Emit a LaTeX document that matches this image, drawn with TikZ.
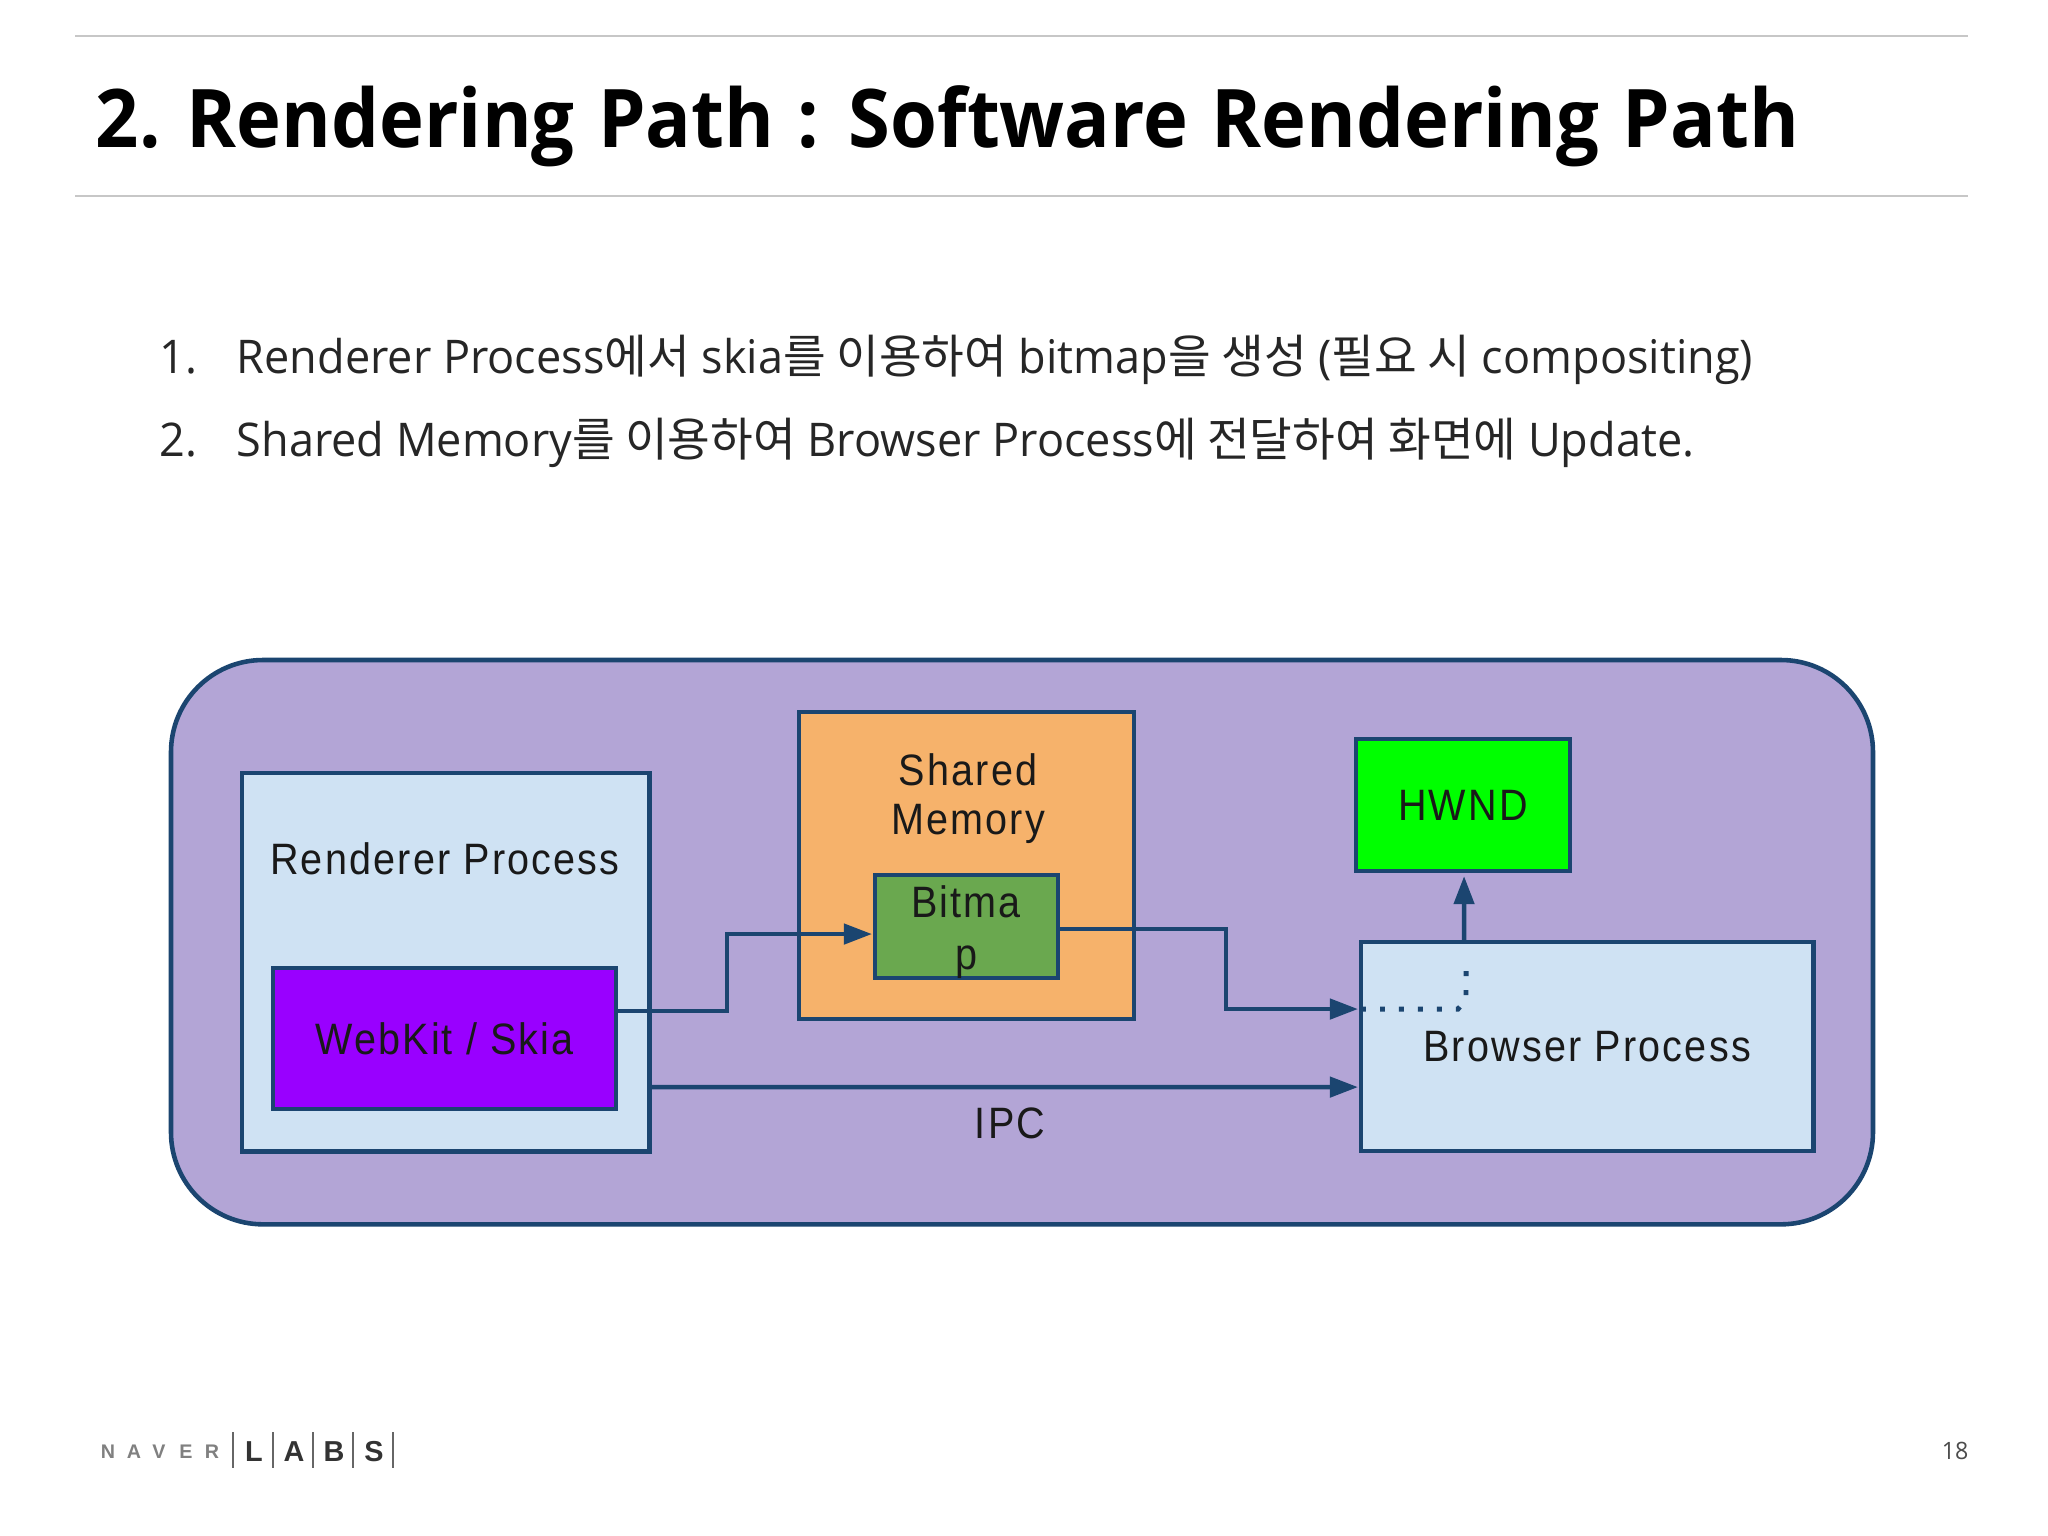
\documentclass[tikz,border=0pt]{standalone}
\usepackage{fontspec}
\usetikzlibrary{arrows.meta}
\setmainfont[FakeStretch=0.97]{Open Sans}
\newfontfamily\kr{Noto Sans CJK KR}
\newfontfamily\ttl[FakeStretch=0.938]{Open Sans}
\newfontfamily\diag[FakeStretch=0.9,LetterSpace=5]{Liberation Sans}
\newfontfamily\logo{Liberation Sans}
\newcommand{\K}[1]{{\kr #1}}
\definecolor{edge}{HTML}{1B4570}
\definecolor{panel}{HTML}{B3A5D6}
\definecolor{pale}{HTML}{CFE2F3}
\definecolor{orangebox}{HTML}{F6B26B}
\definecolor{greenbox}{HTML}{6AA84F}
\definecolor{purplebox}{HTML}{9900FF}
\definecolor{limebox}{HTML}{00FF00}
\tikzset{
  x=0.01cm,y=-0.01cm,
  box/.style={draw=edge,line width=1.3pt,inner sep=0pt,outer sep=0pt},
  lbl/.style={font=\diag\fontsize{12.5}{14}\selectfont,text=black!90,inner sep=0pt,align=center},
  conn/.style={draw=edge,line width=1.3pt,-{Triangle[length=8pt,width=5.7pt]}},
  plainrule/.style={draw=black!22,line width=0.35pt},
  logobar/.style={draw=black!60,line width=0.45pt},
  bodyline/.style={anchor=base west,inner sep=0pt,font=\fontsize{13.2}{16}\selectfont,text=black!85},
}
\begin{document}
\begin{tikzpicture}
\useasboundingbox (0,0) rectangle (2048,1536);
\fill[white] (0,0) rectangle (2048,1536);
% header rules
\coordinate (r1a) at (75,36); \coordinate (r1b) at (1968,36);
\coordinate (r2a) at (75,196); \coordinate (r2b) at (1968,196);
\draw[plainrule] (r1a) -- (r1b);
\draw[plainrule] (r2a) -- (r2b);
\node[anchor=base west,inner sep=0pt,font=\ttl\bfseries\fontsize{23}{28}\selectfont,text=black] (title) at (95,147) {2. Rendering\hspace{1pt} Path\hspace{1pt} :\hspace{1pt} Software\hspace{1pt} Rendering\hspace{1pt} Path};
% body
\node[bodyline] (n1) at (159,373) {1.};
\node[bodyline] (t1) at (236,373) {Renderer Process\K{에서} skia\K{를 이용하여} bitmap\K{을 생성} (\K{필요 시} compositing)};
\node[bodyline] (n2) at (159,456) {2.};
\node[bodyline] (t2) at (236,456) {Shared Memory\K{를 이용하여} Browser Process\K{에 전달하여 화면에} Update.};
% panel
\node[box,fill=panel,rounded corners=0.92cm,minimum width=17.01cm,minimum height=5.64cm,anchor=north west] (panel) at (171,660) {};
\node[box,fill=pale,minimum width=4.07cm,minimum height=3.78cm,anchor=north west] (renderer) at (242,773) {};
\node[lbl] (rendererlabel) at (445,859) {Renderer Process};
\node[box,fill=purplebox,minimum width=3.43cm,minimum height=1.41cm,anchor=north west,lbl,draw=edge] (webkit) at (273,968) {WebKit / Skia};
\node[box,fill=orangebox,minimum width=3.35cm,minimum height=3.07cm,anchor=north west] (shared) at (799,712) {};
\node[lbl] (sharedlabel) at (968,799) {Shared\\Memory};
\node[box,fill=greenbox,minimum width=1.83cm,minimum height=1.03cm,anchor=north west] (bitmap) at (875,875) {};
\node[lbl] (bitmaplabel) at (966,932) {Bitma\\[0.9pt]p};
\node[box,fill=limebox,minimum width=2.14cm,minimum height=1.32cm,anchor=north west,lbl,draw=edge] (hwnd) at (1356,739) {HWND};
\node[box,fill=pale,minimum width=4.52cm,minimum height=2.09cm,anchor=north west,lbl,draw=edge] (browser) at (1361,942) {Browser Process};
\node[lbl] (ipc) at (1010,1123) {IPC};
% connectors
\draw[conn] ([yshift=0.275cm]webkit.east) -- ++(111,0) |- ([xshift=-0.03cm,yshift=-0.075cm]bitmap.west);
\draw[conn] ([yshift=-0.025cm]bitmap.east) -- ++(168,0) |- ([xshift=-0.03cm,yshift=0.375cm]browser.west);
\draw[conn] ([yshift=-1.25cm]renderer.east) -- ([xshift=-0.03cm,yshift=-0.405cm]browser.west);
\draw[conn] ([xshift=-1.23cm]browser.north) -- ([xshift=0.01cm,yshift=-0.05cm]hwnd.south);
\draw[draw=edge,line width=1.4pt,dash pattern=on 1.4pt off 4pt] ([yshift=0.375cm]browser.west) -- ++(97,0) -- ++(8,-9) -- ([xshift=-1.21cm,yshift=-0.17cm]browser.north);
% footer
\foreach \nm/\px in {a/233,b/273,c/313,d/353,e/393}{
  \coordinate (bar\nm t) at (\px,1432);
  \coordinate (bar\nm b) at (\px,1468);
  \draw[logobar] (bar\nm t) -- (bar\nm b);
}
\foreach \nm/\ch/\px in {la/N/108,lb/A/134,lc/V/159,ld/E/186,le/R/212}{
  \node[inner sep=0pt,font=\logo\bfseries\fontsize{5.6}{6}\selectfont,text=black!50] (\nm) at (\px,1452) {\ch};
}
\foreach \nm/\ch/\px in {lf/L/254,lg/A/294,lh/B/334,li/S/374}{
  \node[inner sep=0pt,font=\logo\bfseries\fontsize{8.2}{9}\selectfont,text=black!80] (\nm) at (\px,1452) {\ch};
}
\node[inner sep=0pt,font=\fontsize{6.8}{8}\selectfont,text=black!70] (page) at (1955,1451) {18};
\end{tikzpicture}
\end{document}
